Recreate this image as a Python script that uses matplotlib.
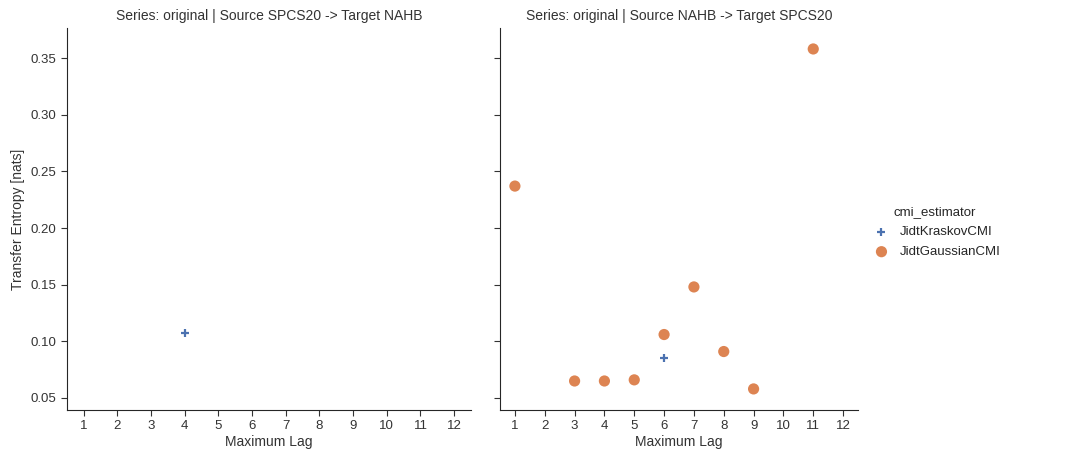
import matplotlib
matplotlib.use("Agg")
import matplotlib.pyplot as plt
import seaborn as sns

sns.set_style("ticks")
plt.rcParams['font.family'] = ['Liberation Sans', 'DejaVu Sans']

lags = list(range(1, 13))
titles = ["Series: original | Source SPCS20 -> Target NAHB",
          "Series: original | Source NAHB -> Target SPCS20"]

# panel 1 (SPCS20 -> NAHB)
kras_x1 = [4]
kras_y1 = [0.107]
gaus_x1 = []
gaus_y1 = []

# panel 2 (NAHB -> SPCS20)
kras_x2 = [6]
kras_y2 = [0.085]
gaus_x2 = [1, 3, 4, 5, 6, 7, 8, 9, 11]
gaus_y2 = [0.237, 0.065, 0.065, 0.066, 0.106, 0.148, 0.091, 0.058, 0.358]

blue = '#4C72B0'
orange = '#DD8452'

fig = plt.figure(figsize=(10.68, 4.55), dpi=100)
ax1 = fig.add_axes([67/1068, 45/455, 404/1068, 382/455])
ax2 = fig.add_axes([500/1068, 45/455, 358/1068, 382/455], sharey=ax1)

panels = [(ax1, kras_x1, kras_y1, gaus_x1, gaus_y1),
          (ax2, kras_x2, kras_y2, gaus_x2, gaus_y2)]
for i, (ax, kx, ky, gx, gy) in enumerate(panels):
    ax.scatter(kx, ky, marker='+', s=30, linewidths=1.6, color=blue,
               label='JidtKraskovCMI', zorder=3)
    ax.scatter(gx, gy, marker='o', s=65, color=orange, edgecolors='none',
               label='JidtGaussianCMI', zorder=3)
    ax.set_xlim(0.5, 12.5)
    ax.set_xticks(lags)
    ax.set_xticklabels([str(l) for l in lags])
    ax.set_ylim(0.0394, 0.3765)
    ax.set_yticks([0.05, 0.10, 0.15, 0.20, 0.25, 0.30, 0.35])
    ax.set_title(titles[i], fontsize=10, color='#333333')
    ax.set_xlabel('Maximum Lag', fontsize=10, color='#333333', labelpad=2)
    ax.tick_params(labelsize=9.5, colors='#333333', length=4)
    sns.despine(ax=ax)

ax1.set_ylabel('Transfer Entropy [nats]', fontsize=10, color='#333333')
ax2.tick_params(labelleft=False)

h, l = ax2.get_legend_handles_labels()
leg = fig.legend(h, l, title='cmi_estimator', loc='center left',
                 bbox_to_anchor=(863/1068, 223/455), frameon=False,
                 fontsize=9.5, title_fontsize=9.5, handletextpad=0.4,
                 labelspacing=0.6, borderaxespad=0)

fig.savefig('out.png', dpi=100)
